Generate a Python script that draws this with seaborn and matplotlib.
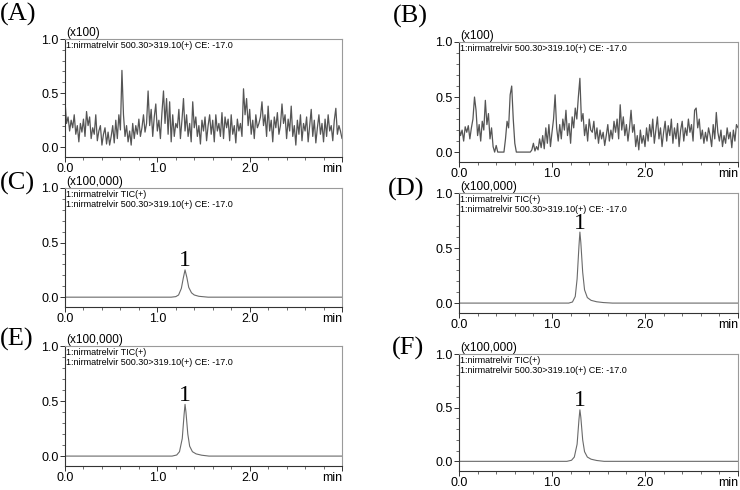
import numpy as np
import pandas as pd
import matplotlib
matplotlib.use("Agg")
import matplotlib.pyplot as plt
import seaborn as sns
from matplotlib.ticker import MultipleLocator, FixedLocator

sns.set_theme(style="white")
plt.rcParams["font.family"] = ["Liberation Sans", "DejaVu Sans"]

# ---------------- data ----------------
T_START, T_END = 0.0, 3.0

noise_a = [
    0.43, 0.22, 0.28, 0.15, 0.25, 0.18, 0.30, 0.12, 0.20, 0.05,
    0.22, 0.14, 0.26, 0.10, 0.33, 0.20, 0.28, 0.08, 0.18, 0.12,
    0.30, 0.06, 0.15, 0.20, 0.02, 0.12, 0.18, 0.03, 0.14, 0.02,
    0.10, 0.20, 0.04, 0.25, 0.08, 0.30, 0.16, 0.71, 0.30, 0.10,
    0.20, 0.05, 0.15, 0.02, 0.22, 0.08, 0.20, 0.12, 0.26, 0.10,
    0.18, 0.30, 0.14, 0.22, 0.52, 0.20, 0.35, 0.10, 0.28, 0.40,
    0.15, 0.25, 0.08, 0.32, 0.52, 0.22, 0.45, 0.12, 0.42, 0.05,
    0.30, 0.10, 0.22, 0.18, 0.35, 0.08, 0.25, 0.45, 0.15, 0.30,
    0.10, 0.22, 0.05, 0.42, 0.18, 0.28, 0.10, 0.20, 0.03, 0.25,
    0.15, 0.28, 0.06, 0.20, 0.30, 0.12, 0.25, 0.05, 0.30, 0.15,
    0.22, 0.10, 0.32, 0.08, 0.28, 0.18, 0.26, 0.06, 0.30, 0.12,
    0.20, 0.04, 0.26, 0.15, 0.22, 0.10, 0.54, 0.30, 0.45, 0.20,
    0.35, 0.12, 0.25, 0.08, 0.30, 0.18, 0.22, 0.28, 0.42, 0.20,
    0.30, 0.10, 0.38, 0.15, 0.25, 0.05, 0.28, 0.18, 0.32, 0.12,
    0.20, 0.40, 0.22, 0.30, 0.08, 0.26, 0.15, 0.38, 0.10, 0.20,
    0.02, 0.25, 0.12, 0.30, 0.06, 0.22, 0.15, 0.28, 0.05, 0.20,
    0.35, 0.10, 0.25, 0.04, 0.18, 0.30, 0.12, 0.22, 0.05, 0.26,
    0.10, 0.30, 0.15, 0.20, 0.06, 0.25, 0.36, 0.12, 0.20, 0.15, 0.08,
]

noise_b = [
    0.22, 0.15, 0.20, 0.10, 0.23, 0.18, 0.24, 0.12, 0.22, 0.30,
    0.50, 0.38, 0.15, 0.25, 0.10, 0.28, 0.20, 0.47, 0.25, 0.35,
    0.12, 0.22, 0.05, 0.00, 0.06, 0.00, 0.00, 0.00, 0.00, 0.00,
    0.12, 0.28, 0.22, 0.52, 0.60, 0.30, 0.08, 0.00, 0.00, 0.00,
    0.00, 0.00, 0.00, 0.00, 0.00, 0.00, 0.00, 0.02, 0.08, 0.01,
    0.05, 0.02, 0.12, 0.04, 0.15, 0.03, 0.22, 0.08, 0.25, 0.05,
    0.18, 0.30, 0.52, 0.22, 0.10, 0.25, 0.12, 0.30, 0.20, 0.38,
    0.15, 0.26, 0.08, 0.32, 0.22, 0.40, 0.30, 0.50, 0.67, 0.28,
    0.35, 0.15, 0.25, 0.10, 0.30, 0.20, 0.18, 0.28, 0.12, 0.22,
    0.08, 0.20, 0.12, 0.18, 0.06, 0.15, 0.25, 0.10, 0.20, 0.12,
    0.28, 0.18, 0.30, 0.12, 0.43, 0.20, 0.32, 0.15, 0.25, 0.10,
    0.22, 0.38, 0.18, 0.25, 0.05, 0.15, 0.02, 0.20, 0.08, 0.15,
    0.05, 0.22, 0.10, 0.25, 0.14, 0.30, 0.08, 0.20, 0.32, 0.12,
    0.22, 0.05, 0.18, 0.28, 0.10, 0.24, 0.15, 0.30, 0.08, 0.22,
    0.12, 0.26, 0.05, 0.20, 0.28, 0.10, 0.22, 0.15, 0.30, 0.18,
    0.25, 0.10, 0.38, 0.40, 0.22, 0.30, 0.12, 0.20, 0.08, 0.18,
    0.10, 0.22, 0.15, 0.05, 0.25, 0.12, 0.36, 0.18, 0.10, 0.20,
    0.05, 0.15, 0.08, 0.22, 0.12, 0.18, 0.04, 0.20, 0.10, 0.25, 0.22,
]

peak_c_t = [0.0, 1.15, 1.20, 1.23, 1.26, 1.28, 1.30, 1.32, 1.34, 1.37, 1.40, 1.45, 1.55, 3.0]
peak_c_v = [0.0, 0.0, 0.005, 0.02, 0.08, 0.17, 0.25, 0.18, 0.09, 0.04, 0.02, 0.008, 0.0, 0.0]

peak_d_t = [0.0, 1.18, 1.22, 1.25, 1.27, 1.29, 1.30, 1.31, 1.33, 1.35, 1.38, 1.42, 1.48, 1.55, 1.65, 3.0]
peak_d_v = [0.0, 0.0, 0.01, 0.06, 0.22, 0.52, 0.645, 0.55, 0.28, 0.12, 0.05, 0.025, 0.012, 0.005, 0.0, 0.0]

peak_e_t = [0.0, 1.16, 1.21, 1.24, 1.27, 1.29, 1.30, 1.31, 1.33, 1.35, 1.38, 1.42, 1.48, 1.56, 3.0]
peak_e_v = [0.0, 0.0, 0.01, 0.04, 0.16, 0.38, 0.47, 0.40, 0.20, 0.09, 0.04, 0.02, 0.008, 0.0, 0.0]

peak_f_t = [0.0, 1.16, 1.21, 1.24, 1.27, 1.29, 1.30, 1.31, 1.33, 1.35, 1.38, 1.42, 1.48, 1.56, 3.0]
peak_f_v = [0.0, 0.0, 0.01, 0.04, 0.16, 0.39, 0.48, 0.41, 0.20, 0.09, 0.04, 0.02, 0.008, 0.0, 0.0]

panel_letters = ["(A)", "(B)", "(C)", "(D)", "(E)", "(F)"]
scale_labels = ["(x100)", "(x100)", "(x100,000)", "(x100,000)", "(x100,000)", "(x100,000)"]
header_tic = "1:nirmatrelvir TIC(+)"
header_mrm = "1:nirmatrelvir 500.30>319.10(+) CE: -17.0"
peak_label = "1"
x_tick_vals = [0.0, 1.0, 2.0, 3.0]
x_tick_text = ["0.0", "1.0", "2.0", "min"]
y_tick_vals = [0.0, 0.5, 1.0]
y_tick_text = ["0.0", "0.5", "1.0"]

# ---------------- layout ----------------
W, H = 740, 490
fig = plt.figure(figsize=(W / 100, H / 100), dpi=100)

# pixel boxes: left, top, right, bottom
boxes = [
    (65, 39, 342, 157),
    (459, 42, 738, 162),
    (65, 188, 342, 307),
    (459, 193, 738, 313),
    (65, 346, 342, 466),
    (459, 354, 738, 471),
]
letter_pos = [(0, 3), (393, 5), (0, 172), (388, 178), (0, 328), (392, 337)]

t_grid_a = np.linspace(T_START, T_END, len(noise_a))
t_grid_b = np.linspace(T_START, T_END, len(noise_b))

traces = [
    pd.DataFrame({"t": t_grid_a, "v": noise_a}),
    pd.DataFrame({"t": t_grid_b, "v": noise_b}),
    pd.DataFrame({"t": peak_c_t, "v": peak_c_v}),
    pd.DataFrame({"t": peak_d_t, "v": peak_d_v}),
    pd.DataFrame({"t": peak_e_t, "v": peak_e_v}),
    pd.DataFrame({"t": peak_f_t, "v": peak_f_v}),
]

header_font = ["Liberation Sans Narrow", "Liberation Sans", "DejaVu Sans"]
serif = ["Liberation Serif", "DejaVu Serif"]

for i, (box, df) in enumerate(zip(boxes, traces)):
    l, t, r, b = box
    ax = fig.add_axes([l / W, 1 - b / H, (r - l) / W, (b - t) / H])
    lw = 0.9 if i < 2 else 0.8
    col = "#555555" if i < 2 else "#6a6a6a"
    sns.lineplot(data=df, x="t", y="v", ax=ax, color=col, lw=lw,
                 estimator=None, sort=False)
    ax.set_xlim(T_START, T_END)
    ax.set_ylim(-0.09, 1.0)
    ax.set_xlabel("")
    ax.set_ylabel("")
    ax.set_facecolor("white")
    for s in ["left", "bottom"]:
        ax.spines[s].set_color("#333333")
        ax.spines[s].set_linewidth(0.8)
    for s in ["top", "right"]:
        ax.spines[s].set_color("#9a9a9a")
        ax.spines[s].set_linewidth(0.8)

    ax.xaxis.set_major_locator(FixedLocator(x_tick_vals))
    ax.set_xticklabels(x_tick_text)
    ax.xaxis.set_minor_locator(MultipleLocator(0.2))
    ax.yaxis.set_major_locator(FixedLocator(y_tick_vals))
    ax.set_yticklabels(y_tick_text)
    ax.yaxis.set_minor_locator(MultipleLocator(0.1))
    ax.tick_params(axis="both", which="major", direction="out", length=3.5,
                   width=0.7, color="#333333", labelsize=9, pad=1.0,
                   bottom=True, left=True, top=False, right=False,
                   labelcolor="black")
    ax.tick_params(axis="both", which="minor", direction="out", length=2,
                   width=0.6, color="#555555", bottom=True, left=True,
                   top=False, right=False)
    labels = ax.get_xticklabels()
    labels[-1].set_horizontalalignment("right")

    # scale label above the frame
    ax.text(0.005, 1.0, scale_labels[i], transform=ax.transAxes,
            ha="left", va="bottom", fontsize=8.5, color="black")
    # header lines inside frame
    if i < 2:
        ax.text(0.005, 0.985, header_mrm, transform=ax.transAxes, ha="left",
                va="top", fontsize=6.5, family=header_font, color="black")
    else:
        ax.text(0.005, 0.985, header_tic + "\n" + header_mrm,
                transform=ax.transAxes, ha="left", va="top", fontsize=6.5,
                family=header_font, color="black", linespacing=1.2)
        k = int(np.argmax(df["v"].values))
        ax.annotate(peak_label, xy=(df["t"].values[k], df["v"].values[k]),
                    xytext=(0, 2.5), textcoords="offset points", ha="center",
                    va="baseline", fontsize=17, family=serif, color="black")

    lx, ly = letter_pos[i]
    fig.text(lx / W, 1 - ly / H, panel_letters[i], ha="left", va="top",
             fontsize=19, family=serif, color="black")

fig.savefig("out.png", dpi=100, facecolor="white")
